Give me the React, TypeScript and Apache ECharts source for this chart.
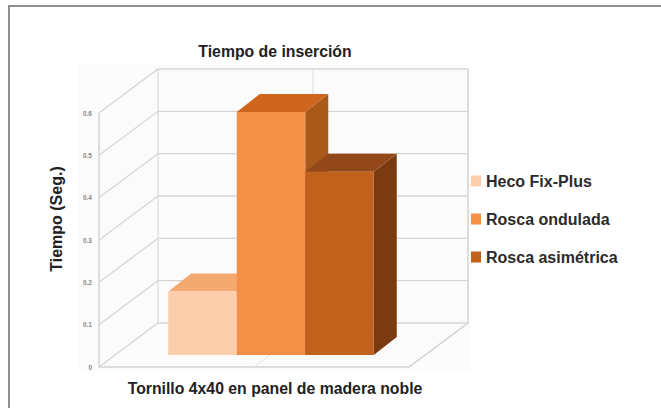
import React, { useEffect, useRef } from "react";
import * as echarts from "echarts";

const categories = ["Tornillo 4x40 en panel de madera noble"];
const seriesNames = ["Heco Fix-Plus", "Rosca ondulada", "Rosca asimétrica"];
const heco = [0.15];
const ondulada = [0.574];
const asimetrica = [0.433];
const seriesValues = [heco, ondulada, asimetrica];
const yTicks = [0, 0.1, 0.2, 0.3, 0.4, 0.5, 0.6];
const frontColors = ["#FBCFAB", "#F38F47", "#C0611C"];
const topColors = ["#F4A970", "#CE661D", "#93481A"];
const sideColors = ["#D98B50", "#A95A1B", "#7A3B10"];

const WALL_DX = 59;
const WALL_DY = -44;
const FONT = '"Liberation Sans", Arial, sans-serif';
const GRID_COLOR = "#DAD5D2";

const wallSeries = {
  type: "custom",
  silent: true,
  z: 1,
  coordinateSystem: "cartesian2d",
  data: yTicks.map((t) => [0, t]),
  renderItem: (params: any, api: any) => {
    const v = api.value(1);
    const cx = api.coord([0, v]);
    const band = api.size([1, 0])[0];
    const left = cx[0] - band / 2;
    const right = cx[0] + band / 2;
    const y = cx[1];
    const children: any[] = [
      {
        type: "polyline",
        shape: {
          points: [
            [left, y],
            [left + WALL_DX, y + WALL_DY],
            [right + WALL_DX, y + WALL_DY],
          ],
        },
        style: { stroke: GRID_COLOR, lineWidth: 1.3, fill: "none" },
      },
    ];
    if (v === 0) {
      const topY = api.coord([0, 0.6])[1];
      const midFront = (left + right) / 2;
      children.unshift({
        type: "polygon",
        shape: {
          points: [
            [left, topY],
            [left + WALL_DX, topY + WALL_DY],
            [right + WALL_DX, topY + WALL_DY],
            [right + WALL_DX, y + WALL_DY],
            [right, y],
            [left, y],
          ],
        },
        style: { fill: "#FBFBFC" },
      });
      children.push(
        {
          type: "polyline",
          shape: {
            points: [
              [left, topY],
              [left, y],
              [right, y],
              [right + WALL_DX, y + WALL_DY],
              [right + WALL_DX, topY + WALL_DY],
            ],
          },
          style: { stroke: "#D6D2D2", lineWidth: 1.5, fill: "none" },
        },
        {
          type: "line",
          shape: { x1: left + WALL_DX, y1: y + WALL_DY, x2: left + WALL_DX, y2: topY + WALL_DY },
          style: { stroke: "#D6D3D3", lineWidth: 1 },
        },
        {
          type: "polyline",
          shape: {
            points: [
              [midFront, y],
              [midFront + WALL_DX, y + WALL_DY],
              [midFront + WALL_DX, topY + WALL_DY],
            ],
          },
          style: { stroke: "#E2DEDC", lineWidth: 1, fill: "none" },
        }
      );
    }
    return { type: "group", children };
  },
};

const BAND_SHARE = 0.221;
const PLANE_DX = 17;
const PLANE_DY = -12;
const DEPTH_DX = 23;
const DEPTH_DY = -18;

const barSeries = seriesNames.map((name, index) => ({
  type: "custom",
  name,
  z: 2 + index,
  coordinateSystem: "cartesian2d",
  itemStyle: { color: frontColors[index] },
  encode: { x: 0, y: 1 },
  data: seriesValues[index].map((v, i) => [i, v]),
  renderItem: (params: any, api: any) => {
    const top = api.coord([api.value(0), api.value(1)]);
    const base = api.coord([api.value(0), 0]);
    const w = api.size([1, 0])[0] * BAND_SHARE;
    const x0 = top[0] + PLANE_DX + (index - 1.5) * w;
    const x1 = x0 + w;
    const yT = top[1] + PLANE_DY;
    const yB = base[1] + PLANE_DY;
    return {
      type: "group",
      children: [
        {
          type: "polygon",
          shape: {
            points: [
              [x1, yT],
              [x1 + DEPTH_DX, yT + DEPTH_DY],
              [x1 + DEPTH_DX, yB + DEPTH_DY],
              [x1, yB],
            ],
          },
          style: { fill: sideColors[index] },
        },
        {
          type: "polygon",
          shape: {
            points: [
              [x0, yT],
              [x0 + DEPTH_DX, yT + DEPTH_DY],
              [x1 + DEPTH_DX, yT + DEPTH_DY],
              [x1, yT],
            ],
          },
          style: { fill: topColors[index] },
        },
        {
          type: "rect",
          shape: { x: x0, y: yT, width: w, height: yB - yT },
          style: { fill: frontColors[index] },
        },
      ],
    };
  },
}));

export default function App() {
  const ref = useRef<HTMLDivElement>(null);
  useEffect(() => {
    const chart = echarts.init(ref.current!, undefined, { renderer: "svg" });
    chart.setOption({
      animation: false,
      backgroundColor: "#ffffff",
      textStyle: { fontFamily: FONT },
      title: [
        {
          text: "Tiempo de inserción",
          left: 270,
          top: 38,
          textAlign: "center",
          textStyle: { fontFamily: FONT, fontSize: 15.8, fontWeight: "bold", color: "#222222" },
        },
        {
          text: categories[0],
          left: 270,
          top: 375,
          textAlign: "center",
          textStyle: { fontFamily: FONT, fontSize: 15.8, fontWeight: "bold", color: "#222222" },
        },
      ],
      legend: {
        orient: "vertical",
        left: 466,
        top: 168,
        itemWidth: 10,
        itemHeight: 11,
        itemGap: 22,
        icon: "rect",
        selectedMode: false,
        data: seriesNames,
        textStyle: { fontFamily: FONT, fontSize: 16, fontWeight: "bold", color: "#2B2B2B" },
      },
      grid: { left: 99, top: 113, width: 310, height: 254 },
      xAxis: {
        type: "category",
        data: categories,
        axisLine: { show: false },
        axisTick: { show: false },
        axisLabel: { show: false },
      },
      yAxis: {
        type: "value",
        min: 0,
        max: 0.6,
        interval: 0.1,
        name: "Tiempo (Seg.)",
        nameLocation: "middle",
        nameGap: 35,
        nameRotate: 90,
        nameTextStyle: {
          fontFamily: FONT,
          fontSize: 16,
          fontWeight: "bold",
          color: "#222222",
          padding: [0, 0, 0, 42],
        },
        axisLine: { show: false },
        axisTick: { show: false },
        splitLine: { show: false },
        axisLabel: {
          margin: 7,
          fontSize: 6.5,
          fontWeight: "bold",
          color: "#888888",
          fontFamily: FONT,
          formatter: (v: number) => String(Math.round(v * 10) / 10),
        },
      },
      graphic: [
        { type: "rect", silent: true, z: -1, shape: { x: 78, y: 65, width: 392, height: 306 }, style: { fill: "#FCFCFC" } },
        { type: "rect", silent: true, shape: { x: 8, y: 5, width: 653, height: 2 }, style: { fill: "#8E8E90" } },
        { type: "rect", silent: true, shape: { x: 8, y: 5, width: 2, height: 403 }, style: { fill: "#8E8E90" } },
      ],
      series: [wallSeries, ...barSeries],
    });
    return () => chart.dispose();
  }, []);
  return <div ref={ref} style={{ position: "fixed", left: 0, top: 0, width: 661, height: 408 }} />;
}
